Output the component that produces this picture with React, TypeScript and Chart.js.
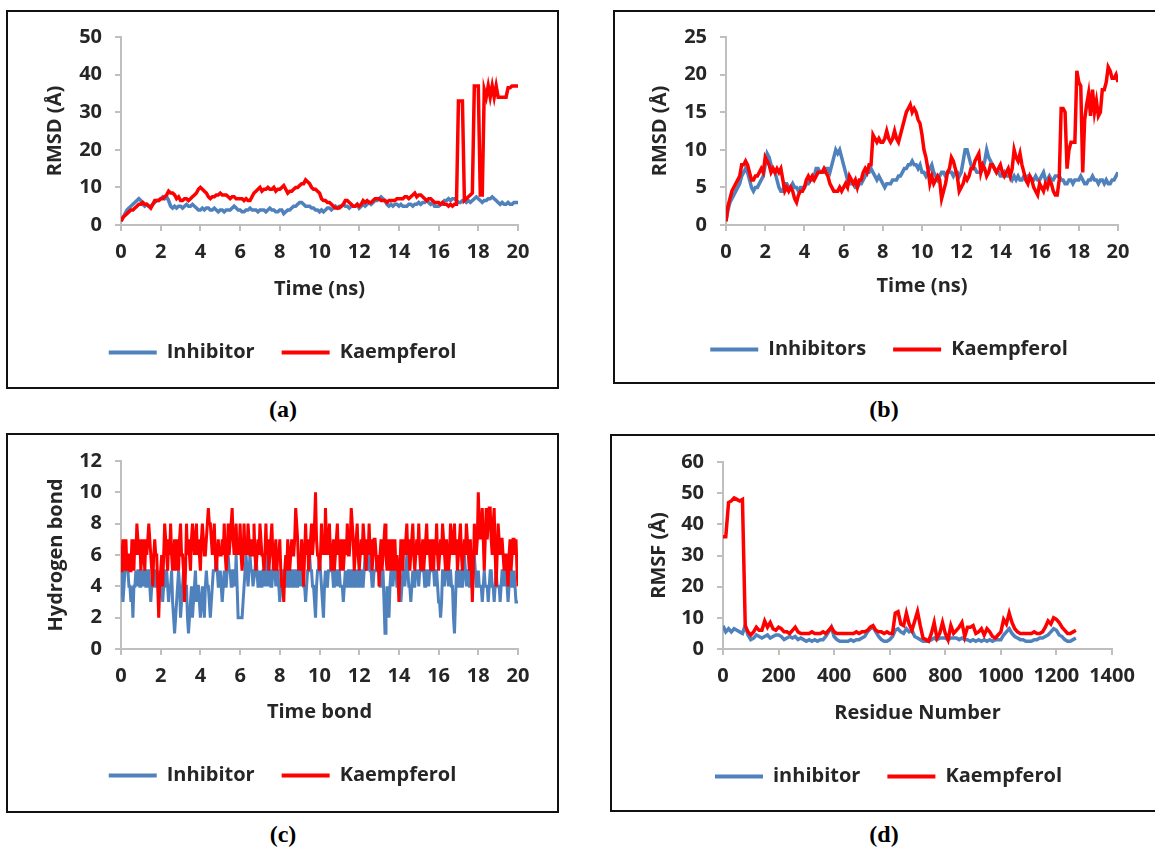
import React, { useEffect, useRef } from 'react';
import { Chart, registerables } from 'chart.js';

Chart.register(...registerables);

// ---------- categories (sampling grids) ----------
const TIME_NS = Array.from({ length: 201 }, (_, i) => i / 10);
const TIME_NS_FINE = Array.from({ length: 401 }, (_, i) => i / 20);
const RESIDUES = Array.from({ length: 128 }, (_, i) => i * 10);

// ---------- (a) RMSD ----------
const A_INHIBITOR = [
  1, 2, 3, 4, 4.5, 5, 5.5, 6, 6.5, 7,
  6.5, 5.5, 5, 5.5, 5, 5, 5.5, 6, 6.5, 6.5,
  7, 7.5, 7, 7.5, 6.5, 5, 4.5, 5, 4.5, 5,
  5, 4.5, 5, 5.5, 5, 5, 5.5, 5, 4.5, 4,
  4, 4.5, 4, 4.5, 4.5, 4, 4, 4.5, 4, 3.5,
  4, 4, 3.5, 4, 4, 4, 4.5, 5, 4.5, 4,
  4, 3.5, 3.5, 4, 4, 4.5, 4, 4, 4, 3.5,
  4, 4, 4, 3.5, 4, 4.5, 4, 4, 3.5, 3.5,
  4, 4, 3, 3.5, 4, 4, 4.5, 5, 5, 5.5,
  6, 6, 5.5, 5, 5, 5, 4.5, 4.5, 4, 4,
  3.5, 4, 3.5, 4, 4.5, 4.5, 4, 4.5, 5, 4.5,
  5, 5, 5.5, 5, 5, 4.5, 5, 5, 5, 5.5,
  4.5, 5, 5.5, 5, 5.5, 6, 5.5, 6, 6.5, 6.5,
  7, 7.5, 7, 6.5, 5.5, 5, 5.5, 5, 5.5, 5.5,
  5, 5.5, 5, 5, 5, 5.5, 5.5, 5, 5.5, 5.5,
  6, 5.5, 6, 6, 6.5, 6, 5.5, 6, 5, 5,
  5, 5.5, 5.5, 6.5, 6.5, 7, 6.5, 7, 7, 6.5,
  6, 6, 6.5, 6.5, 6, 6.5, 6, 6.5, 7, 7.5,
  7, 6.5, 6, 6.5, 6.5, 7, 7, 7.5, 7, 6.5,
  6, 5.5, 6, 5.5, 5.5, 6, 5.5, 5.5, 6, 6,
  6,
];
const A_KAEMPFEROL = [
  1, 2, 2.5, 3, 3.5, 4, 4, 4.5, 5, 5.5,
  5.5, 6, 5.5, 5.5, 5, 4.5, 5.5, 6.5, 6.5, 6.5,
  7, 7, 7.5, 8, 9, 8.5, 8.5, 8, 7, 7.5,
  6.5, 6.5, 7, 7, 6.5, 7, 7.5, 8, 8.5, 9.5,
  10, 9.5, 9, 8.5, 7.5, 7, 7.5, 7.5, 8, 8,
  8.5, 8, 8, 8, 7.5, 7, 7.5, 7.5, 7, 7,
  7, 7, 6.5, 7, 6.5, 6.5, 7.5, 8.5, 9, 9.5,
  10, 9, 9.5, 9.5, 10, 9.5, 9.5, 10, 9, 9.5,
  9.5, 10, 10.5, 9.5, 8.5, 9, 9, 9.5, 10, 10,
  10.5, 11, 11, 12, 11.5, 11, 10, 9.5, 9.5, 9,
  8.5, 7, 6.5, 6.5, 6, 6, 5.5, 5, 4.5, 4.5,
  4.5, 5, 5.5, 6.5, 6.5, 6, 5.5, 5, 5, 5.5,
  5, 5.5, 6.5, 6, 6.5, 6, 6, 6.5, 7, 7,
  7, 6.5, 6.5, 6.5, 6, 6.5, 6.5, 6.5, 6.5, 7,
  7, 7, 7, 7.5, 7.5, 7, 7.5, 8, 8.5, 7.5,
  8, 8, 7.5, 7, 6.5, 7, 7, 6.5, 6, 6,
  6, 5.5, 6, 5.5, 5.5, 5, 5.5, 5, 5.5, 5.5,
  33, 33, 33, 6.5, 7, 7.5, 8, 8.5, 37, 37,
  37, 8, 8, 36, 34, 37, 34, 37, 34, 37,
  34, 34, 34, 34, 34, 36.5, 36.5, 37, 37, 37,
  37,
];

// ---------- (b) RMSD ----------
const B_INHIBITORS = [
  0.5, 2, 3, 3.5, 4, 4.5, 5, 5.5, 6.5, 7,
  7.5, 7, 6, 5, 4.5, 5, 5, 5.5, 6, 6.5,
  8, 9.5, 9, 8, 7.5, 7, 6, 5, 4.5, 4.5,
  5.5, 5.5, 5, 5, 5.5, 5, 5, 4.5, 5, 5,
  5, 5.5, 5.5, 6, 6, 6.5, 7.5, 7.5, 7, 7,
  7, 7.5, 7.5, 7, 8, 9, 10, 9.5, 10, 9,
  8, 7, 6, 5.5, 5.5, 5.5, 5, 5, 5.5, 5.5,
  6, 6.5, 7, 7, 7.5, 7, 6.5, 6, 6.5, 6,
  5.5, 5, 5.5, 5.5, 5.5, 6, 6, 6, 6.5, 6.5,
  7, 7.5, 7.5, 8, 8, 8.5, 8, 8, 7.5, 8,
  7, 7, 6.5, 7, 7.5, 8, 7, 6.5, 6, 6.5,
  7, 7, 6.5, 7, 7, 7, 6.5, 7, 7, 6.5,
  7, 8.5, 10, 10, 9, 8, 7.5, 7.5, 7, 7,
  7, 7.5, 8.5, 10, 9, 8.5, 8, 7.5, 7, 7,
  6.5, 6.5, 7, 6.5, 6.5, 6.5, 6, 6.5, 6, 6.5,
  6, 6, 6.5, 6, 6.5, 6.5, 6, 6, 6.5, 6,
  6, 6.5, 7, 6, 6, 6.5, 6, 6, 6.5, 6.5,
  6.5, 6, 6, 5.5, 5.5, 6, 6, 5.5, 6, 6,
  6, 6.5, 6, 5.5, 5.5, 6, 6, 6.5, 6, 6,
  5.5, 6, 6, 5.5, 6, 5.5, 5.5, 6, 6, 6.5,
  7,
];
const B_KAEMPFEROL = [
  0.5, 2.5, 3.5, 4.5, 5, 5.5, 6, 6.5, 8, 8,
  8.5, 8, 7, 6, 6, 6.5, 6.5, 7, 7.5, 7,
  9, 8.5, 8, 7, 7.5, 7, 7.5, 7, 7.5, 6,
  4.5, 5, 4.5, 5, 4.5, 3.5, 3, 4, 4.5, 4.5,
  5, 6, 6.5, 6, 6.5, 6, 6.5, 7, 7, 7,
  7.5, 7, 6.5, 5.5, 5, 4.5, 4.5, 4.5, 5, 4.5,
  5, 5.5, 5, 6.5, 6, 5.5, 6, 5, 6, 6,
  7, 7.5, 7, 8, 8, 12, 11.5, 11, 11.5, 11,
  11, 11.5, 12.5, 11.5, 11, 11.5, 12.5, 11.5, 11, 12,
  13, 14, 15, 15.5, 16, 15, 15.5, 15, 14, 13.5,
  12, 10, 9, 7.5, 5.5, 6.5, 5.5, 6, 6.5, 6,
  3.5, 4.5, 5.5, 7, 7.5, 9, 8.5, 7.5, 6.5, 4.5,
  5, 5.5, 6.5, 6, 6.5, 7.5, 7.5, 8.5, 9, 9.5,
  7, 8, 7.5, 6.5, 7, 8, 8, 7.5, 7, 7.5,
  8, 7, 6.5, 7, 7.5, 6.5, 7.5, 10, 9, 8.5,
  9.5, 8, 7, 6, 5.5, 6.5, 6, 5, 4.5, 4,
  5.5, 5, 4.5, 5.5, 5, 6, 5.5, 4.5, 4, 4,
  6, 15.5, 15.5, 15, 7.5, 10, 11, 11, 11, 20.5,
  19, 18.5, 7, 14, 16, 17.5, 14.5, 18, 15, 16.5,
  14.5, 15, 18, 18, 19, 21, 20.5, 19.5, 19.5, 20,
  19,
];

// ---------- (c) Hydrogen bonds (every 0.05 ns) ----------
const C_INHIBITOR = [
  5, 4, 3, 4, 5, 5, 6, 5, 4, 4, 3, 4, 2, 4, 4, 5, 4, 5, 5, 4,
  4, 5, 4, 5, 5, 4, 4, 5, 5, 4, 3, 4, 4, 5, 5, 4, 4, 5, 3, 4,
  5, 4, 3, 4, 4, 5, 5, 4, 3, 4, 4, 5, 3, 2, 1, 2, 3, 4, 5, 4,
  2, 3, 4, 5, 3, 4, 4, 2, 1, 2, 3, 4, 2, 3, 4, 5, 3, 4, 4, 3,
  2, 3, 4, 3, 2, 4, 5, 4, 4, 3, 2, 3, 4, 5, 5, 5, 6, 5, 4, 4,
  5, 4, 3, 4, 5, 4, 4, 5, 6, 5, 5, 4, 4, 5, 5, 4, 6, 4, 2, 2,
  2, 2, 2, 3, 4, 5, 6, 5, 4, 5, 6, 5, 5, 4, 4, 5, 6, 5, 4, 4,
  5, 4, 4, 5, 5, 4, 6, 5, 4, 5, 5, 4, 4, 5, 6, 5, 4, 5, 5, 4,
  3, 4, 4, 5, 5, 4, 4, 5, 5, 4, 4, 5, 5, 4, 4, 5, 5, 4, 4, 5,
  5, 4, 6, 5, 4, 4, 3, 4, 5, 5, 6, 5, 5, 4, 4, 3, 2, 4, 5, 5,
  6, 5, 4, 3, 2, 4, 5, 4, 4, 5, 5, 5, 6, 5, 4, 4, 5, 5, 4, 5,
  5, 4, 4, 4, 3, 4, 5, 4, 4, 5, 5, 4, 4, 5, 5, 4, 4, 5, 5, 4,
  4, 5, 5, 4, 4, 5, 6, 5, 6, 5, 6, 5, 5, 4, 4, 5, 5, 5, 6, 5,
  5, 4, 4, 5, 5, 3, 1, 2, 4, 3, 2, 4, 5, 5, 4, 5, 6, 5, 4, 4,
  5, 4, 3, 4, 5, 5, 4, 5, 6, 5, 4, 4, 3, 4, 5, 4, 4, 5, 5, 5,
  4, 5, 5, 5, 6, 5, 4, 4, 5, 5, 4, 5, 5, 5, 6, 5, 4, 5, 5, 4,
  3, 3, 2, 3, 5, 5, 4, 5, 6, 5, 4, 5, 5, 4, 4, 2, 1, 3, 5, 4,
  4, 5, 5, 4, 4, 5, 6, 5, 4, 5, 5, 4, 4, 5, 5, 5, 6, 5, 4, 4,
  5, 4, 4, 4, 3, 4, 5, 4, 4, 4, 3, 4, 5, 5, 4, 4, 3, 4, 5, 4,
  4, 4, 3, 4, 5, 5, 4, 5, 5, 4, 3, 4, 5, 5, 4, 4, 5, 4, 3, 3,
  3,
];
const C_KAEMPFEROL = [
  5, 6, 7, 5, 6, 7, 5, 6, 6, 5, 5, 7, 6, 5, 7, 6, 8, 7, 6, 7,
  5, 6, 7, 6, 5, 7, 6, 7, 8, 7, 6, 5, 4, 6, 7, 6, 6, 4, 2, 4,
  5, 6, 4, 6, 8, 7, 6, 5, 7, 6, 8, 6, 5, 6, 7, 5, 6, 7, 5, 7,
  8, 6, 6, 5, 3, 5, 8, 6, 7, 6, 5, 7, 8, 7, 6, 7, 8, 6, 7, 6,
  5, 7, 8, 7, 6, 6, 7, 8, 9, 8, 8, 7, 6, 7, 8, 6, 5, 6, 7, 6,
  6, 6, 7, 6, 8, 6, 5, 6, 8, 6, 7, 8, 9, 7, 6, 7, 8, 6, 7, 6,
  8, 6, 5, 6, 8, 6, 7, 6, 8, 7, 6, 6, 7, 6, 8, 6, 5, 6, 7, 6,
  8, 7, 6, 6, 5, 6, 8, 6, 7, 5, 6, 7, 8, 6, 5, 6, 7, 5, 6, 6,
  7, 5, 4, 4, 3, 5, 6, 5, 7, 6, 5, 6, 7, 6, 6, 7, 9, 8, 7, 5,
  6, 5, 7, 6, 4, 6, 8, 6, 7, 5, 6, 7, 8, 6, 7, 8, 10, 7, 6, 6,
  5, 6, 8, 6, 7, 6, 9, 7, 6, 7, 8, 6, 5, 6, 7, 5, 6, 7, 8, 6,
  7, 5, 6, 7, 5, 6, 7, 6, 8, 6, 6, 7, 9, 8, 7, 5, 6, 7, 8, 6,
  5, 6, 7, 6, 8, 7, 6, 5, 7, 6, 8, 6, 7, 5, 6, 7, 7, 6, 5, 6,
  4, 6, 7, 5, 6, 7, 8, 6, 5, 6, 7, 5, 6, 7, 5, 6, 7, 5, 6, 5,
  3, 5, 7, 6, 5, 7, 6, 7, 8, 6, 7, 5, 6, 7, 8, 6, 5, 6, 7, 6,
  8, 6, 5, 6, 7, 5, 6, 7, 8, 6, 7, 6, 5, 7, 6, 5, 7, 6, 8, 6,
  5, 6, 7, 6, 8, 7, 6, 5, 7, 6, 5, 6, 8, 7, 6, 7, 8, 6, 7, 5,
  6, 7, 8, 6, 5, 6, 7, 6, 8, 7, 6, 5, 7, 5, 3, 5, 8, 7, 6, 7,
  10, 8, 7, 8, 9, 7, 5, 7, 9, 7, 8, 9, 9, 7, 6, 8, 9, 6, 4, 6,
  8, 7, 6, 7, 7, 6, 5, 6, 6, 5, 4, 6, 7, 5, 6, 7, 7, 6, 7, 5,
  4,
];

// ---------- (d) RMSF ----------
const D_INHIBITOR = [
  7.5, 5.5, 6.5, 5.5, 6.5, 6, 5.5, 5, 7.5, 4.5,
  3, 3.5, 4.5, 4, 3.5, 4, 4.5, 3.5, 4, 4.5,
  4.5, 4, 3, 3.5, 4, 3.5, 4, 3, 3.5, 3,
  2.5, 3, 2.5, 3, 2.5, 3, 3, 4, 5.5, 7,
  4, 3, 2.5, 2.5, 2.5, 2.5, 3, 2.5, 3, 3,
  3.5, 4, 5.5, 6.5, 7, 5.5, 4, 3, 2.5, 2.5,
  3, 4, 6, 6.5, 5.5, 5, 6.5, 5.5, 6, 4,
  3.5, 3, 2.5, 2.5, 2.5, 3, 3.5, 3, 3.5, 3.5,
  3.5, 3, 3.5, 3.5, 3.5, 3, 3.5, 3, 3, 2.5,
  3, 2.5, 3, 2.5, 3, 2.5, 3, 2.5, 3, 3,
  3, 4.5, 5.5, 6.5, 5, 4, 3.5, 3, 3, 2.5,
  2.5, 2.5, 3, 3, 3.5, 3.5, 4, 4.5, 5.5, 6.5,
  6, 4.5, 4, 3, 2.5, 2.5, 3, 3.5,
];
const D_KAEMPFEROL = [
  36, 36, 47, 47.5, 48.5, 48, 47.5, 48, 7.5, 5.5,
  4.5, 5.5, 7, 6, 6, 9, 7, 8.5, 6.5, 6,
  7, 6.5, 5.5, 5.5, 5, 6, 7, 5.5, 5, 5,
  5, 5, 5.5, 5, 5, 5, 5.5, 5, 6, 7,
  5.5, 5, 5, 5, 5, 5, 5, 5, 5.5, 5,
  5.5, 5.5, 6, 7, 7.5, 6, 5.5, 5.5, 5, 5.5,
  5, 5, 11.5, 12, 8, 7.5, 11.5, 8, 6, 9,
  12, 7.5, 3.5, 3, 2.5, 5, 8.5, 3.5, 5, 8.5,
  5, 3, 7.5, 5, 6, 7, 8.5, 4, 7, 7,
  7.5, 5, 5.5, 6.5, 4.5, 6.5, 5.5, 4, 3.5, 4.5,
  5.5, 9.5, 8, 11.5, 8.5, 6.5, 5.5, 5, 5, 5,
  5, 5, 5.5, 5, 5, 5.5, 7, 9, 8, 10,
  9.5, 8.5, 7, 6, 5, 5, 5.5, 6,
];

// ---------- styling ----------
const BLUE = '#4f81bd';
const RED = '#ff0000';
const TEXT = '#262626';
const AXIS = '#bfbfbf';
const FONT = '"Open Sans", "DejaVu Sans", sans-serif';
const FONT_SIZE = 20;

type PanelCfg = {
  left: number; top: number; width: number; height: number;
  padL: number; padR: number; padT: number; padB: number;
  yW: number; xH: number; yTitlePad: number; xTitlePad: number;
  xMax: number; xStep: number; yMax: number; yStep: number;
  xTitle: string; yTitle: string;
  xs: number[]; blue: number[]; red: number[];
  blueLabel: string; redLabel: string; lineW: number;
  caption: string; capX: number; capY: number;
};

const PANELS: PanelCfg[] = [
  {
    left: 6, top: 10, width: 553, height: 379,
    padL: 39, padR: 39, padT: 25, padB: 14.5, yW: 74, xH: 90.5, yTitlePad: -4, xTitlePad: 14.5,
    xMax: 20, xStep: 2, yMax: 50, yStep: 10,
    xTitle: 'Time (ns)', yTitle: 'RMSD (Å)',
    xs: TIME_NS, blue: A_INHIBITOR, red: A_KAEMPFEROL,
    blueLabel: 'Inhibitor', redLabel: 'Kaempferol', lineW: 3.5,
    caption: '(a)', capX: 283, capY: 411,
  },
  {
    left: 613, top: 10, width: 552, height: 374,
    padL: 45, padR: 45, padT: 25, padB: 12.5, yW: 66, xH: 87.5, yTitlePad: -12, xTitlePad: 14.5,
    xMax: 20, xStep: 2, yMax: 25, yStep: 5,
    xTitle: 'Time (ns)', yTitle: 'RMSD (Å)',
    xs: TIME_NS, blue: B_INHIBITORS, red: B_KAEMPFEROL,
    blueLabel: 'Inhibitors', redLabel: 'Kaempferol', lineW: 3.5,
    caption: '(b)', capX: 884, capY: 411,
  },
  {
    left: 6, top: 433, width: 553, height: 380,
    padL: 39, padR: 39, padT: 26, padB: 15.5, yW: 74, xH: 89.5, yTitlePad: -3, xTitlePad: 14.5,
    xMax: 20, xStep: 2, yMax: 12, yStep: 2,
    xTitle: 'Time bond', yTitle: 'Hydrogen bond',
    xs: TIME_NS_FINE, blue: C_INHIBITOR, red: C_KAEMPFEROL,
    blueLabel: 'Inhibitor', redLabel: 'Kaempferol', lineW: 3,
    caption: '(c)', capX: 283, capY: 836,
  },
  {
    left: 610, top: 434, width: 557, height: 378,
    padL: 53, padR: 53, padT: 26, padB: 13.5, yW: 58, xH: 90.5, yTitlePad: -18, xTitlePad: 14.5,
    xMax: 1400, xStep: 200, yMax: 60, yStep: 10,
    xTitle: 'Residue Number', yTitle: 'RMSF (Å)',
    xs: RESIDUES, blue: D_INHIBITOR, red: D_KAEMPFEROL,
    blueLabel: 'inhibitor', redLabel: 'Kaempferol', lineW: 3.5,
    caption: '(d)', capX: 884, capY: 836,
  },
];

function Panel({ cfg }: { cfg: PanelCfg }) {
  const ref = useRef<HTMLCanvasElement>(null);
  const w = cfg.width - 4;
  const h = cfg.height - 4;

  useEffect(() => {
    const font = { family: FONT, weight: 'bold' as const, size: FONT_SIZE };
    const plain = (v: any) => String(v);
    const chart = new Chart(ref.current as HTMLCanvasElement, {
      type: 'line',
      data: {
        datasets: [
          {
            label: cfg.redLabel,
            data: cfg.xs.map((x, i) => ({ x, y: cfg.red[i] })),
            borderColor: RED, backgroundColor: RED,
            borderWidth: cfg.lineW, pointRadius: 0, tension: 0,
          },
          {
            label: cfg.blueLabel,
            data: cfg.xs.map((x, i) => ({ x, y: cfg.blue[i] })),
            borderColor: BLUE, backgroundColor: BLUE,
            borderWidth: cfg.lineW, pointRadius: 0, tension: 0,
          },
        ],
      },
      options: {
        animation: false,
        responsive: false,
        events: [],
        layout: { padding: { left: cfg.padL, right: cfg.padR, top: cfg.padT, bottom: cfg.padB } },
        plugins: {
          tooltip: { enabled: false },
          legend: {
            position: 'bottom',
            reverse: true,
            labels: {
              font, color: TEXT, boxWidth: 48, boxHeight: 4, padding: 27,
              generateLabels: (c: any) =>
                (Chart.defaults.plugins.legend.labels.generateLabels as any)(c).map((l: any) => ({
                  ...l, lineWidth: 0, fillStyle: l.strokeStyle,
                })),
            },
          },
        },
        scales: {
          x: {
            type: 'linear', min: 0, max: cfg.xMax,
            ticks: { stepSize: cfg.xStep, font, color: TEXT, padding: 9.5, autoSkip: false, maxRotation: 0, callback: plain },
            grid: { drawOnChartArea: false, color: AXIS, lineWidth: 2, tickLength: 6 },
            border: { color: AXIS, width: 2 },
            title: { display: true, text: cfg.xTitle, font, color: TEXT, padding: { top: 0, bottom: cfg.xTitlePad } },
            afterFit: (s: any) => { s.height = cfg.xH; },
          },
          y: {
            type: 'linear', min: 0, max: cfg.yMax,
            ticks: { stepSize: cfg.yStep, font, color: TEXT, padding: 13, callback: plain },
            grid: { drawOnChartArea: false, color: AXIS, lineWidth: 2, tickLength: 6 },
            border: { color: AXIS, width: 2 },
            title: { display: true, text: cfg.yTitle, font, color: TEXT, padding: { top: cfg.yTitlePad, bottom: 0 } },
            afterFit: (s: any) => { s.width = cfg.yW; },
          },
        },
      } as any,
    });
    return () => chart.destroy();
  }, []);

  return (
    <>
      <div
        style={{
          position: 'absolute', left: cfg.left, top: cfg.top, width: cfg.width, height: cfg.height,
          border: '2px solid #111', boxSizing: 'border-box', background: '#fff',
        }}
      >
        <canvas ref={ref} width={w} height={h} style={{ display: 'block', width: w, height: h }} />
      </div>
      <div
        style={{
          position: 'absolute', left: cfg.capX - 40, top: cfg.capY - 15, width: 80, height: 30,
          textAlign: 'center', lineHeight: '30px',
          font: 'bold 24px "Liberation Serif", "Times New Roman", serif', color: '#000',
        }}
      >
        {cfg.caption}
      </div>
    </>
  );
}

export default function App() {
  return (
    <div
      style={{
        position: 'absolute', left: 0, top: 0, width: 1155, height: 853,
        overflow: 'hidden', background: '#fff',
      }}
    >
      {PANELS.map((p, i) => (
        <Panel key={i} cfg={p} />
      ))}
    </div>
  );
}
